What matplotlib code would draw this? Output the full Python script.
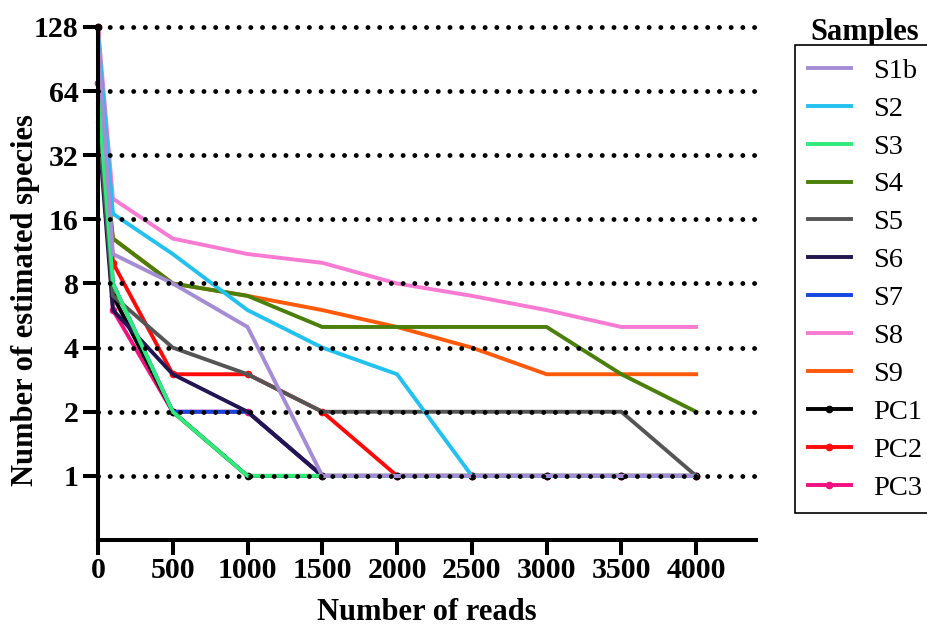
import numpy as np
import matplotlib
matplotlib.use("Agg")
import matplotlib.pyplot as plt

plt.rcParams['font.family'] = ['Liberation Serif', 'DejaVu Serif']

reads = [0, 100, 500, 1000, 1500, 2000, 2500, 3000, 3500, 4000]

samples = ["S1b", "S2", "S3", "S4", "S5", "S6", "S7", "S8", "S9", "PC1", "PC2", "PC3"]

s1b = [110, 11, 8, 5, 1, 1, 1, 1, 1, 1]
s2 = [120, 17, 11, 6, 4, 3, 1, 1, 1, 1]
s3 = [64, 8, 2, 1, 1, 1, 1, 1, 1, 1]
s4 = [60, 13, 8, 7, 5, 5, 5, 5, 3, 2]
s5 = [50, 7, 4, 3, 2, 2, 2, 2, 2, 1]
s6 = [45, 6, 3, 2, 1, 1, 1, 1, 1, 1]
s7 = [100, 8, 2, 2, 1, 1, 1, 1, 1, 1]
s8 = [128, 20, 13, 11, 10, 8, 7, 6, 5, 5]
s9 = [55, 13, 8, 7, 6, 5, 4, 3, 3, 3]
pc1 = [128, 7, 2, 1, 1, 1, 1, 1, 1, 1]
pc2 = [128, 10, 3, 3, 2, 1, 1, 1, 1, 1]
pc3 = [70, 6, 2, 2, 1, 1, 1, 1, 1, 1]

series = [s1b, s2, s3, s4, s5, s6, s7, s8, s9, pc1, pc2, pc3]

colors = ["#A58DD6", "#22C1F0", "#2EEB7A", "#4A7F0A", "#555555", "#231551",
          "#1446E0", "#F77AD3", "#FF5A0A", "#000000", "#FF0A0A", "#F01080"]

y_ticks = [1, 2, 4, 8, 16, 32, 64, 128]
x_ticks = [0, 500, 1000, 1500, 2000, 2500, 3000, 3500, 4000]

fig = plt.figure(figsize=(9.28, 6.35), dpi=100)
ax = fig.add_axes([0.1056, 0.1496, 0.709, 0.8079])

# first dataset ends up on top, so draw in reverse
handles = {}
for name, vals, col in reversed(list(zip(samples, series, colors))):
    marker = "o" if name.startswith("PC") else None
    h, = ax.plot(reads, vals, color=col, lw=2.8, marker=marker, markersize=4.5,
                 solid_joinstyle="miter", clip_on=False)
    handles[name] = h

ax.set_yscale("log", base=2)
ax.set_ylim(0.5, 128)
ax.set_xlim(0, 4400)
ax.set_yticks(y_ticks)
ax.set_yticklabels([str(t) for t in y_ticks])
ax.yaxis.set_minor_locator(matplotlib.ticker.NullLocator())
ax.set_xticks(x_ticks)

for lab in ax.get_xticklabels() + ax.get_yticklabels():
    lab.set_fontweight("bold")
    lab.set_fontsize(21.5)

ax.tick_params(axis="both", which="major", length=11, width=2.9, direction="out")
ax.tick_params(axis="x", pad=1)
ax.tick_params(axis="y", pad=3)

for side in ["top", "right"]:
    ax.spines[side].set_visible(False)
for side in ["left", "bottom"]:
    ax.spines[side].set_linewidth(2.9)

ax.set_axisbelow(False)
ax.yaxis.grid(True, color="black", linestyle=(0, (0.01, 2.4)), linewidth=3.5,
              dash_capstyle="round")
for gl in ax.get_ygridlines():
    gl.set_clip_on(False)

ax.set_xlabel("Number of reads", fontsize=22, fontweight="bold")
ax.set_ylabel("Number of estimated species", fontsize=22, fontweight="bold")
ax.xaxis.set_label_coords(0.5, -0.113)
ax.yaxis.set_label_coords(-0.088, 0.468)

leg = fig.legend([handles[n] for n in samples], samples, loc="upper left",
                 bbox_to_anchor=(0.8567, 0.929), bbox_transform=fig.transFigure,
                 borderaxespad=0, fontsize=20.5, handlelength=1.5, handletextpad=0.8,
                 labelspacing=0.42, borderpad=0.45, fancybox=False, framealpha=1,
                 edgecolor="black")
leg.get_frame().set_linewidth(1.2)

fig.text(865 / 928, 1 - 40 / 635, "Samples", ha="center", va="baseline",
         fontsize=22, fontweight="bold")

fig.savefig("out.png", dpi=100)
